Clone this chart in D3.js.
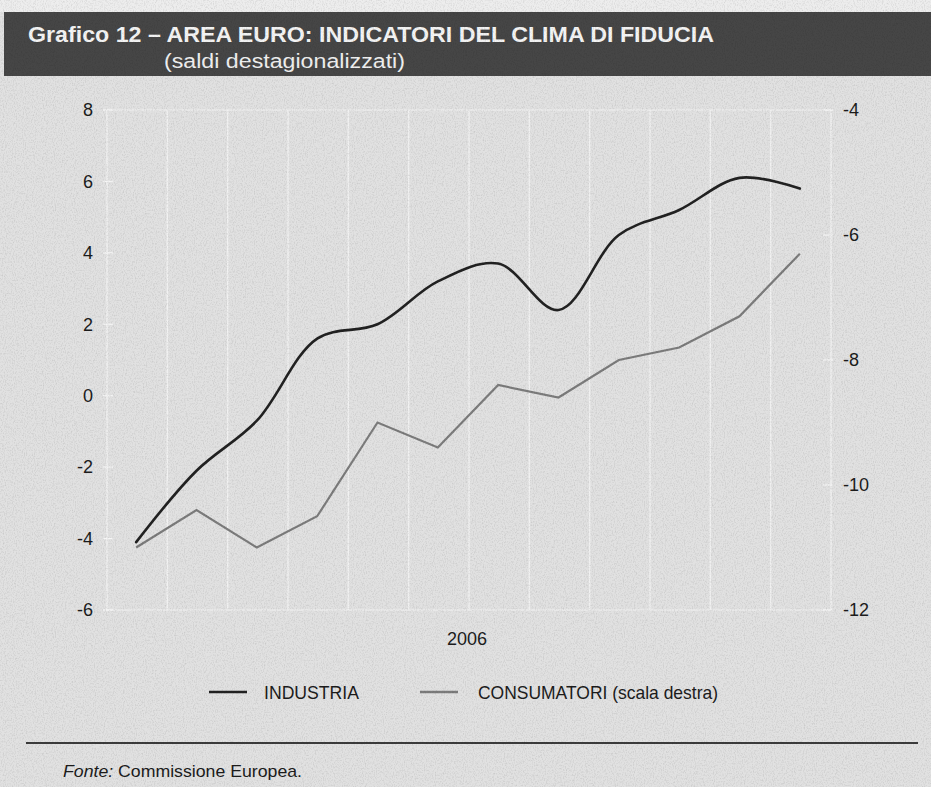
<!DOCTYPE html>
<html>
<head>
<meta charset="utf-8">
<script src="https://cdn.jsdelivr.net/npm/d3@7"></script>
<style>
  html, body { margin: 0; padding: 0; background: #dedede; }
  svg { display: block; font-family: "Liberation Sans", Arial, sans-serif; }
</style>
</head>
<body>
<div id="chart"></div>
<script>
// Grafico 12 — area euro, clima di fiducia (saldi destagionalizzati), 2006

const months = ['gen', 'feb', 'mar', 'apr', 'mag', 'giu', 'lug', 'ago', 'set', 'ott', 'nov', 'dic'];
const industria = [-4.1, -2.1, -0.7, 1.6, 2.0, 3.2, 3.7, 2.4, 4.5, 5.2, 6.1, 5.8];
const consumatori = [-11.0, -10.4, -11.0, -10.5, -9.0, -9.4, -8.4, -8.6, -8.0, -7.8, -7.3, -6.3];
const leftTicks = [-6, -4, -2, 0, 2, 4, 6, 8];
const rightTicks = [-12, -10, -8, -6, -4];
const yearLabel = '2006';

const W = 931, H = 787;
const plot = { left: 106, right: 830, top: 110, bottom: 610 };
const INK = '#1c1c1c';

const svg = d3.select('#chart').append('svg')
  .attr('width', W).attr('height', H)
  .attr('viewBox', `0 0 ${W} ${H}`);

// paper grain
const defs = svg.append('defs');
const grain = defs.append('filter').attr('id', 'grain')
  .attr('x', 0).attr('y', 0).attr('width', '100%').attr('height', '100%');
grain.append('feTurbulence').attr('type', 'fractalNoise')
  .attr('baseFrequency', '0.9 0.6').attr('numOctaves', 2).attr('seed', 4);
grain.append('feColorMatrix').attr('type', 'matrix')
  .attr('values', '0 0 0 0 0  0 0 0 0 0  0 0 0 0 0  0 0 0 -1.1 0.62');

svg.append('rect').attr('width', W).attr('height', H).attr('fill', '#e1e1e1');
svg.append('rect').attr('width', W).attr('height', 12).attr('fill', '#ededed');

// header band
svg.append('rect').attr('x', 4).attr('y', 12).attr('width', W - 4).attr('height', 64).attr('fill', '#464646');
svg.append('text')
  .attr('x', 28).attr('y', 42)
  .attr('fill', '#f4f4f4').attr('font-weight', 'bold').attr('font-size', 22)
  .attr('textLength', 686).attr('lengthAdjust', 'spacingAndGlyphs')
  .text('Grafico 12 – AREA EURO: INDICATORI DEL CLIMA DI FIDUCIA');
svg.append('text')
  .attr('x', 164).attr('y', 68)
  .attr('fill', '#f0f0f0').attr('font-size', 20)
  .attr('textLength', 241).attr('lengthAdjust', 'spacingAndGlyphs')
  .text('(saldi destagionalizzati)');

// scales
const x = d3.scaleBand().domain(months).range([plot.left, plot.right]);
const cx = (m) => x(m) + x.bandwidth() / 2;
const yL = d3.scaleLinear().domain([-6, 8]).range([plot.bottom, plot.top]);
const yR = d3.scaleLinear().domain([-12, -4]).range([plot.bottom, plot.top]);

// grid: white month separators + frame top/bottom
const grid = svg.append('g').attr('stroke', '#f6f6f6').attr('stroke-width', 1.2).attr('opacity', 0.85);
months.concat(['end']).forEach((m, i) => {
  const gx = i < months.length ? x(m) : plot.right;
  grid.append('line')
    .attr('x1', gx + 1).attr('x2', gx + 1)
    .attr('y1', plot.top).attr('y2', plot.bottom);
});
grid.append('line').attr('x1', plot.left).attr('x2', plot.right).attr('y1', plot.top).attr('y2', plot.top);
grid.append('line').attr('x1', plot.left).attr('x2', plot.right).attr('y1', plot.bottom).attr('y2', plot.bottom);

// left axis
const axL = svg.append('g').attr('transform', `translate(${plot.left},0)`)
  .call(d3.axisLeft(yL).tickValues(leftTicks).tickSize(0).tickPadding(13).tickFormat(d => String(d)));
axL.select('.domain').remove();
axL.selectAll('text').attr('font-size', 18).attr('fill', INK)
  .attr('font-family', '"Liberation Sans", Arial, sans-serif');
svg.append('g').selectAll('line').data(leftTicks).join('line')
  .attr('x1', plot.left - 3).attr('x2', plot.left + 7)
  .attr('y1', d => yL(d)).attr('y2', d => yL(d))
  .attr('stroke', '#f6f6f6').attr('stroke-width', 1.2);

// right axis
const axR = svg.append('g').attr('transform', `translate(${plot.right},0)`)
  .call(d3.axisRight(yR).tickValues(rightTicks).tickSize(0).tickPadding(13).tickFormat(d => String(d)));
axR.select('.domain').remove();
axR.selectAll('text').attr('font-size', 18).attr('fill', INK)
  .attr('font-family', '"Liberation Sans", Arial, sans-serif');
svg.append('g').selectAll('line').data(rightTicks).join('line')
  .attr('x1', plot.right - 7).attr('x2', plot.right + 3)
  .attr('y1', d => yR(d)).attr('y2', d => yR(d))
  .attr('stroke', '#f6f6f6').attr('stroke-width', 1.2);

// year label
svg.append('text')
  .attr('x', (plot.left + plot.right) / 2 - 1).attr('y', 645)
  .attr('text-anchor', 'middle').attr('font-size', 18).attr('fill', INK)
  .text(yearLabel);

// series
const lineInd = d3.line().x((d, i) => cx(months[i])).y(d => yL(d)).curve(d3.curveCatmullRom.alpha(0.5));
const lineCons = d3.line().x((d, i) => cx(months[i])).y(d => yR(d));

svg.append('path').datum(consumatori)
  .attr('d', lineCons).attr('fill', 'none')
  .attr('stroke', '#7c7c7c').attr('stroke-width', 2.2).attr('stroke-linejoin', 'miter');
svg.append('path').datum(industria)
  .attr('d', lineInd).attr('fill', 'none')
  .attr('stroke', '#222').attr('stroke-width', 2.6).attr('stroke-linecap', 'round');

// legend
const legend = [
  { label: 'INDUSTRIA', color: '#222', w: 2.6, x: 209, tx: 264, tl: 95 },
  { label: 'CONSUMATORI (scala destra)', color: '#7c7c7c', w: 2.4, x: 420, tx: 478, tl: 240 },
];
legend.forEach(l => {
  svg.append('line')
    .attr('x1', l.x).attr('x2', l.x + 38).attr('y1', 692).attr('y2', 692)
    .attr('stroke', l.color).attr('stroke-width', l.w);
  svg.append('text')
    .attr('x', l.tx).attr('y', 699)
    .attr('font-size', 19).attr('fill', INK)
    .attr('textLength', l.tl).attr('lengthAdjust', 'spacingAndGlyphs')
    .text(l.label);
});

// source rule + note
svg.append('line')
  .attr('x1', 26).attr('x2', 918).attr('y1', 743).attr('y2', 743)
  .attr('stroke', '#3c3c3c').attr('stroke-width', 2);
const note = svg.append('text').attr('x', 63).attr('y', 777).attr('font-size', 17).attr('fill', INK)
  .attr('textLength', 239).attr('lengthAdjust', 'spacingAndGlyphs');
note.append('tspan').attr('font-style', 'italic').text('Fonte:');
note.append('tspan').text(' Commissione Europea.');

// grain overlay on top of everything
svg.append('rect').attr('width', W).attr('height', H)
  .attr('filter', 'url(#grain)').attr('opacity', 0.2).attr('pointer-events', 'none');
</script>
</body>
</html>
